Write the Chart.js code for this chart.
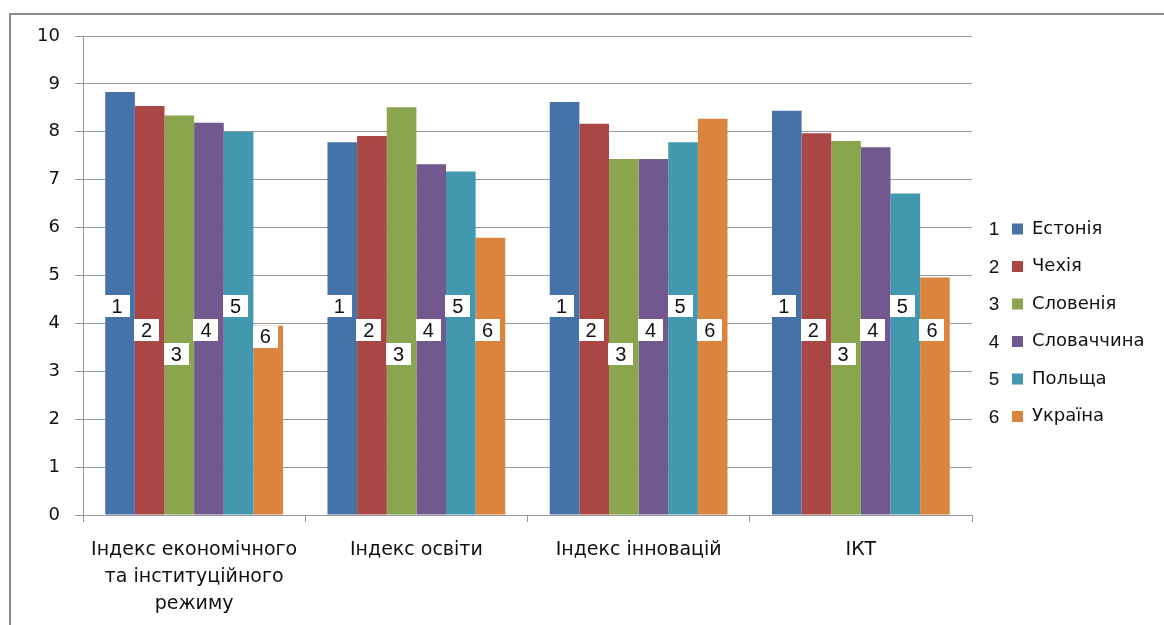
<!DOCTYPE html>
<html>
<head>
<meta charset="utf-8">
<script src="https://cdn.jsdelivr.net/npm/chart.js@4/dist/chart.umd.min.js"></script>
<style>
  html, body { margin: 0; padding: 0; background: #ffffff; }
  #wrap { position: relative; width: 1164px; height: 625px; }
</style>
</head>
<body>
<div id="wrap"><canvas id="chart"></canvas></div>
<script>
// Categories on the x axis (multi-line label for the first group)
const categories = [
  ['Індекс економічного', 'та інституційного', 'режиму'],
  'Індекс освіти',
  'Індекс інновацій',
  'ІКТ'
];

// Countries, in series order
const countries = ['Естонія', 'Чехія', 'Словенія', 'Словаччина', 'Польща', 'Україна'];

// Index values per country, one per category
const estonia  = [8.83, 7.78, 8.62, 8.44];
const czechia  = [8.54, 7.91, 8.17, 7.97];
const slovenia = [8.34, 8.51, 7.43, 7.81];
const slovakia = [8.19, 7.32, 7.43, 7.68];
const poland   = [8.00, 7.17, 7.78, 6.71];
const ukraine  = [3.95, 5.79, 8.27, 4.96];

const seriesValues = [estonia, czechia, slovenia, slovakia, poland, ukraine];
const seriesColors = ['#4572A7', '#AA4643', '#89A54E', '#71588F', '#4198AF', '#DB843D'];

// Value axis ticks
const yTicks = [0, 1, 2, 3, 4, 5, 6, 7, 8, 9, 10];

// Height (in axis units) at which each series' number badge sits
const badgeLevels = [4.36, 3.86, 3.36, 3.86, 4.36, 3.86];

const FONT = '"DejaVu Sans", sans-serif';
const NUM_FONT = '"Liberation Sans", Arial, sans-serif';
const GRID = '#999999';
const INK = '#111111';

// White page with a grey frame on the left and top
const framePlugin = {
  id: 'frame',
  beforeDraw(chart) {
    const ctx = chart.ctx;
    ctx.save();
    ctx.fillStyle = '#ffffff';
    ctx.fillRect(0, 0, chart.width, chart.height);
    ctx.strokeStyle = '#8a8a8a';
    ctx.lineWidth = 2;
    ctx.beginPath();
    ctx.moveTo(10, chart.height + 5);
    ctx.lineTo(10, 14);
    ctx.lineTo(chart.width + 5, 14);
    ctx.stroke();
    ctx.restore();
  }
};

// Numbered white badges on each bar
const badgePlugin = {
  id: 'badges',
  afterDatasetsDraw(chart) {
    const ctx = chart.ctx;
    const yScale = chart.scales.y;
    ctx.save();
    ctx.font = '20px ' + NUM_FONT;
    ctx.textAlign = 'center';
    ctx.textBaseline = 'middle';
    chart.data.datasets.forEach((ds, i) => {
      const meta = chart.getDatasetMeta(i);
      meta.data.forEach(bar => {
        const cx = bar.x - 3;
        let top = yScale.getPixelForValue(badgeLevels[i]) - 11;
        if (top < bar.y) top = bar.y;
        ctx.fillStyle = '#ffffff';
        ctx.fillRect(Math.round(cx - 12.5), Math.round(top), 25, 22);
        ctx.fillStyle = INK;
        ctx.fillText(String(i + 1), cx, top + 12);
      });
    });
    ctx.restore();
  }
};

// Legend: fixed width, placed to the right, with series numbers in front
const legendPlacement = {
  id: 'legendPlacement',
  afterInit(chart) {
    const lg = chart.legend;
    if (!lg) return;
    const fit = lg.fit.bind(lg);
    lg.fit = function () { fit(); this.width = 192; };
  },
  afterLayout(chart) {
    const lg = chart.legend;
    lg.left = 992.5;
    lg.right = chart.width;
    lg.top = 200.5;
    lg.bottom = chart.height;
    lg.width = lg.right - lg.left;
    lg.height = lg.bottom - lg.top;
  },
  afterDraw(chart) {
    const lg = chart.legend;
    const ctx = chart.ctx;
    ctx.save();
    ctx.font = '19px ' + NUM_FONT;
    ctx.fillStyle = INK;
    ctx.textAlign = 'center';
    ctx.textBaseline = 'middle';
    (lg.legendHitBoxes || []).forEach((hb, i) => {
      ctx.fillText(String(i + 1), hb.left - 18, hb.top + hb.height / 2 + 1);
    });
    ctx.restore();
  }
};

new Chart(document.getElementById('chart'), {
  type: 'bar',
  data: {
    labels: categories,
    datasets: countries.map((name, i) => ({
      label: name,
      data: seriesValues[i],
      backgroundColor: seriesColors[i],
      borderWidth: 0,
      barPercentage: 1.0,
      categoryPercentage: 0.8
    }))
  },
  options: {
    responsive: true,
    maintainAspectRatio: false,
    animation: false,
    layout: { padding: { top: 36, right: 0, bottom: 0, left: 0 } },
    plugins: {
      tooltip: { enabled: false },
      legend: {
        position: 'right',
        align: 'start',
        labels: {
          font: { family: FONT, size: 18 },
          color: INK,
          boxWidth: 11,
          boxHeight: 11,
          padding: 19.5
        }
      }
    },
    scales: {
      x: {
        grid: {
          display: true,
          drawOnChartArea: false,
          drawTicks: true,
          tickLength: 7,
          offset: true,
          color: GRID
        },
        border: { display: true, color: GRID, width: 1 },
        ticks: {
          font: { family: FONT, size: 19, lineHeight: 1.42 },
          color: INK,
          padding: 15,
          maxRotation: 0,
          autoSkip: false
        },
        afterFit(scale) { scale.height = 110; }
      },
      y: {
        min: yTicks[0],
        max: yTicks[yTicks.length - 1],
        grid: {
          color: GRID,
          lineWidth: 1,
          tickLength: 8,
          drawTicks: true
        },
        border: { display: true, color: GRID, width: 1 },
        ticks: {
          stepSize: 1,
          font: { family: FONT, size: 18 },
          color: INK,
          padding: 15
        },
        afterFit(scale) { scale.width = 83; }
      }
    }
  },
  plugins: [framePlugin, badgePlugin, legendPlacement]
});
</script>
</body>
</html>
